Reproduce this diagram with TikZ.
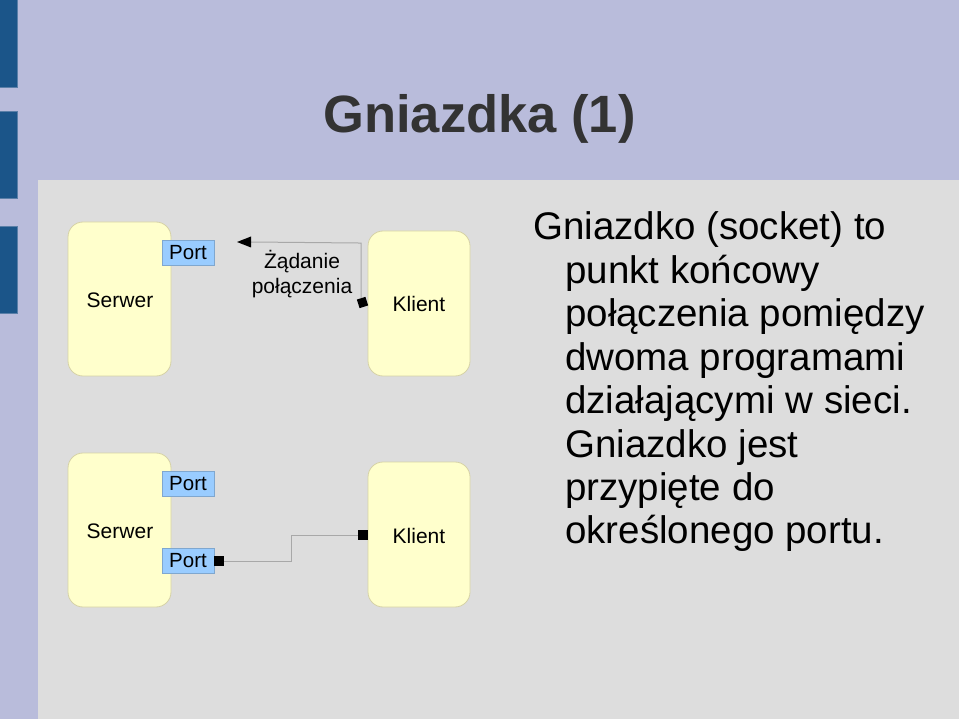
\documentclass[tikz,border=0pt]{standalone}
\usepackage{fontspec}
\setmainfont{Liberation Sans}
\definecolor{lav}{HTML}{B9BCDB}
\definecolor{panel}{HTML}{DDDDDD}
\definecolor{bar}{HTML}{1B5589}
\definecolor{barb}{HTML}{5A7FA8}
\definecolor{boxf}{HTML}{FFFFCC}
\definecolor{boxd}{HTML}{D6D2A6}
\definecolor{portf}{HTML}{99CCFF}
\definecolor{portd}{HTML}{7FA7CF}
\definecolor{linec}{HTML}{A8A8A8}
\definecolor{titlec}{HTML}{333333}
\tikzset{
  prog/.style={draw=boxd, fill=boxf, rounded corners=15pt, line width=0.8pt, inner sep=0pt},
  lbl/.style={font=\fontsize{21}{24.5}\selectfont, text=black, align=center, inner sep=0pt},
  portbox/.style={draw=portd, fill=portf, line width=0.6pt, minimum width=52pt, minimum height=25pt, inner sep=0pt, font=\fontsize{20.5}{24}\selectfont},
  sq/.style={fill=black, minimum size=9pt, inner sep=0pt},
  conn/.style={draw=linec, line width=1pt},
  bartile/.style={fill=bar, draw=barb, line width=0.6pt},
  body/.style={inner sep=0pt, font=\fontsize{38.5}{43.4}\selectfont, align=left}
}
\begin{document}
\begin{tikzpicture}[x=1pt,y=-1pt]
\useasboundingbox (0,0) rectangle (959,719);
\fill[lav] (0,0) rectangle (959,719);
\fill[panel] (38,180) rectangle (959,719);
\draw[bartile] (-2,-2) rectangle (17,87);
\draw[bartile] (-2,111) rectangle (17,198);
\draw[bartile] (-2,226) rectangle (17,313);
\node[anchor=base, text=titlec, font=\fontsize{52.5}{60}\selectfont\bfseries, inner sep=0pt] (title) at (479.5,133) {Gniazdka (1)};

% programs
\path[prog] (68,222) rectangle (171,376);
\node[lbl] (s1) at (120,300) {Serwer};
\path[prog] (368,231) rectangle (470,376);
\node[lbl] (k1) at (419,304) {Klient};
\path[prog] (68,453) rectangle (171,607);
\node[lbl] (s2) at (120,531) {Serwer};
\path[prog] (368,462) rectangle (470,607);
\node[lbl] (k2) at (419,536) {Klient};

% ports
\node[portbox] (p1) at (188,252.5) {Port};
\node[portbox] (p2) at (188,483.5) {Port};
\node[portbox] (p3) at (188,560.5) {Port};

% request connector
\node[sq, rotate=18] (sqa) at (362.5,302.5) {};
\coordinate (ah) at (237,242);
\draw[conn] (sqa.north) -- ++(0,-55) -- (251,242);
\fill[black] (ah) -- (251,236.5) -- (251,247.5) -- cycle;
\node[lbl] (req) at (302,274) {Żądanie\\połączenia};

% established connection
\node[sq, minimum size=10pt] (sqb) at (219,561) {};
\node[sq, minimum size=10pt] (sqc) at (363,535) {};
\draw[conn] (sqb.east) -- (291,561) -- (291,535) -- (sqc.west);

% text
\node[body, anchor=base west] (t1) at (533,240) {Gniazdko (socket) to};
\node[body, anchor=north west] (t2) at (565,255) {punkt końcowy\\połączenia pomiędzy\\dwoma programami\\działającymi w sieci.\\Gniazdko jest\\przypięte do\\określonego portu.};
\end{tikzpicture}
\end{document}
